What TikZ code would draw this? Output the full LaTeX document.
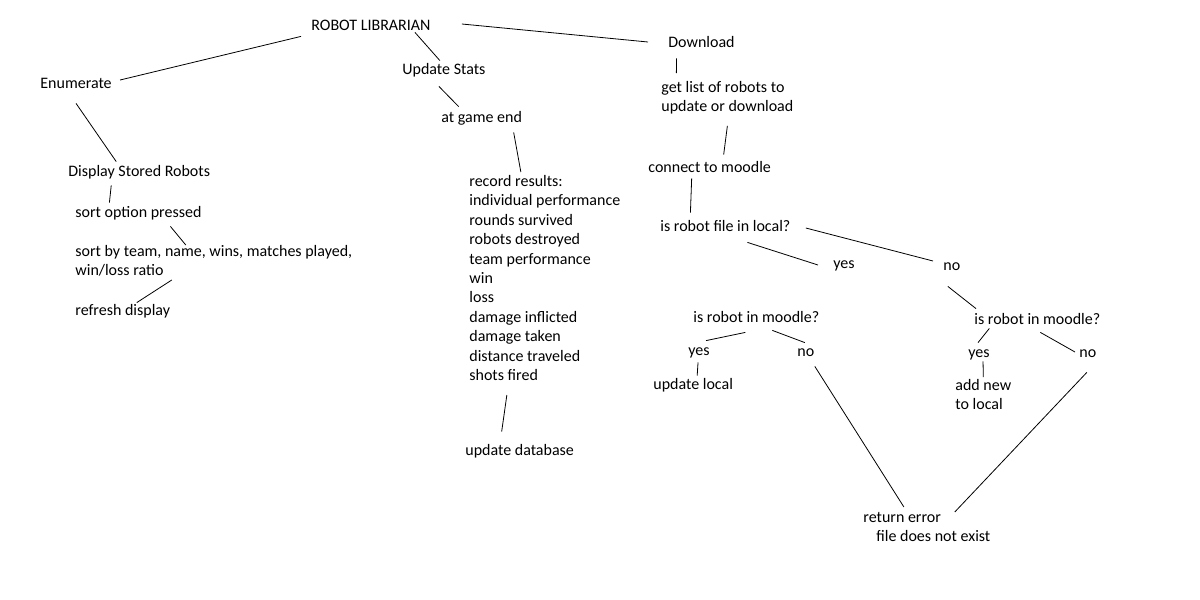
\documentclass[tikz,border=0pt]{standalone}
\usepackage{fontspec}
\setmainfont{Carlito}
\tikzset{
  lbl/.style={inner sep=0pt, anchor=base west, text height=12pt, text depth=4pt},
  block/.style={inner sep=0pt, anchor=north west, align=left},
}
\begin{document}
\begin{tikzpicture}[x=1pt,y=-1pt,line width=0.8pt,every node/.style={font=\fontsize{16}{19.4}\selectfont}]
  \useasboundingbox (0,0) rectangle (1200,600);
  \node[lbl] (root) at (311,30) {ROBOT LIBRARIAN};
  % enumerate branch
  \node[lbl] (enum) at (40,88) {Enumerate};
  \node[lbl] (disp) at (68,176) {Display Stored Robots};
  \node[lbl] (sortopt) at (75,217) {sort option pressed};
  \node[block] (sortby) at (75,245) {sort by team, name, wins, matches played,\\win/loss ratio};
  \node[lbl] (refresh) at (75,315) {refresh display};
  % stats branch
  \node[lbl] (upd) at (402,74) {Update Stats};
  \node[lbl] (gameend) at (441,122) {at game end};
  \node[block] (record) at (469,175) {record results:\\individual performance\\rounds survived\\robots destroyed\\team performance\\win\\loss\\damage inflicted\\damage taken\\distance traveled\\shots fired};
  \node[lbl] (upddb) at (465,455) {update database};
  % download branch
  \node[lbl] (down) at (668,47) {Download};
  \node[block] (getlist) at (661,81) {get list of robots to\\update or download};
  \node[lbl] (connect) at (648,172) {connect to moodle};
  \node[lbl] (isfile) at (660,231) {is robot file in local?};
  \node[lbl] (yes1) at (833,268) {yes};
  \node[lbl] (no1) at (943,270) {no};
  \node[lbl] (moodleL) at (693,322) {is robot in moodle?};
  \node[lbl] (yesL) at (688,355) {yes};
  \node[lbl] (noL) at (797,356) {no};
  \node[lbl] (updlocal) at (653,389) {update local};
  \node[lbl] (moodleR) at (974,324) {is robot in moodle?};
  \node[lbl] (yesR) at (968,357) {yes};
  \node[lbl] (noR) at (1079,357) {no};
  \node[block] (addnew) at (955,379) {add new\\to local};
  \node[block] (reterr) at (863,512) {return error\\\hspace*{13pt}file does not exist};

  \draw ([shift={(-10,2)}]root.south west) -- ([shift={(8,-4)}]enum.east);
  \draw ([shift={(44,-2)}]root.south) -- ([shift={(-4,-1)}]upd.north);
  \draw ([shift={(31,-2)}]root.east) -- ([shift={(-20,-1)}]down.west);
  \draw ([shift={(0,11)}]enum.south) -- ([shift={(-23,-2)}]disp.north);
  \draw ([shift={(-28,5)}]disp.south) -- ([shift={(-29,-2)}]sortopt.north);
  \draw ([shift={(32,5)}]sortopt.south) -- ([shift={(-28,0)}]sortby.north);
  \draw ([shift={(-42,3)}]sortby.south) -- ([shift={(14,0)}]refresh.north);
  \draw ([shift={(-5,8)}]upd.south) -- ([shift={(-23,-3)}]gameend.north);
  \draw ([shift={(32,6)}]gameend.south) -- ([shift={(-24,-3)}]record.north);
  \draw ([shift={(-38,14)}]record.south) -- ([shift={(-18,-11)}]upddb.north);
  \draw ([shift={(-25,7)}]down.south) -- ([shift={(-51,-8)}]getlist.north);
  \draw ([shift={(0,11)}]getlist.south) -- ([shift={(14,-5)}]connect.north);
  \draw ([shift={(-18,2)}]connect.south) -- ([shift={(-35,-6)}]isfile.north);
  \draw ([shift={(22,7)}]isfile.south) -- ([shift={(-15,1)}]yes1.west);
  \draw ([shift={(15,1)}]isfile.east) -- ([shift={(-10,-5)}]no1.west);
  \draw ([shift={(-4,12)}]no1.south) -- ([shift={(2,-3)}]moodleR.north west);
  \draw ([shift={(-11,6)}]moodleL.south) -- ([shift={(7,-2)}]yesL.north);
  \draw ([shift={(16,4)}]moodleL.south) -- ([shift={(-1,-1)}]noL.north);
  \draw ([shift={(-1,3)}]yesL.south) -- ([shift={(4,-1)}]updlocal.north);
  \draw ([shift={(9,6)}]noL.south) -- ([shift={(-23,-5)}]reterr.north);
  \draw ([shift={(-48,0)}]moodleR.south) -- ([shift={(-1,-2)}]yesR.north);
  \draw ([shift={(3,4)}]moodleR.south) -- ([shift={(-4,-1)}]noR.west);
  \draw ([shift={(4,0)}]yesR.south) -- ([shift={(0,-2)}]addnew.north);
  \draw ([shift={(-1,11)}]noR.south) -- ([shift={(-36,0)}]reterr.north east);
\end{tikzpicture}
\end{document}
